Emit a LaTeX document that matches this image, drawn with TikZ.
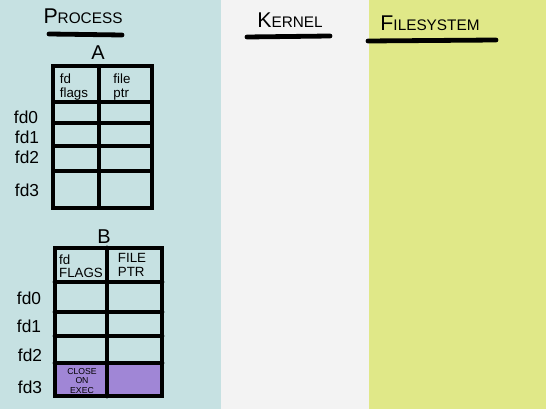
\documentclass[tikz,border=0pt]{standalone}
\usepackage{fontspec}
\setmainfont{Liberation Sans}
\usetikzlibrary{positioning}

\definecolor{procblue}{RGB}{198,225,226}
\definecolor{kernwhite}{RGB}{243,243,243}
\definecolor{fsyellow}{RGB}{224,232,136}
\definecolor{cloexec}{RGB}{160,134,214}

\newcommand{\smcap}[2]{{\fontsize{16}{18}\selectfont #1}{\fontsize{11.5}{13}\selectfont #2}}

\tikzset{
  marker/.style={line width=2.6pt, line cap=round},
  heavy/.style={line width=3.6pt, line cap=round},
  title/.style={inner sep=0pt, anchor=base},
  fdlabel/.style={font=\fontsize{13}{14}\selectfont, inner sep=0pt},
  hdr/.style={font=\fontsize{10}{10}\selectfont, align=left, inner sep=0pt},
  tblname/.style={font=\fontsize{15}{16}\selectfont, inner sep=0pt}
}

\begin{document}
\begin{tikzpicture}[x=0.75pt, y=-0.75pt]

    % Background columns
    \useasboundingbox (0,0) rectangle (546,409);
    \fill[kernwhite] (0,0) rectangle (546,409);
    \fill[procblue] (0,0) rectangle (221,409);
    \fill[fsyellow] (369,0) rectangle (546,409);

    % Column titles with their underlines
    \node[title] (process) at (83,24) {\smcap{P}{ROCESS}};
    \node[title] (kernel) at (290,28) {\smcap{K}{ERNEL}};
    \node[title] (filesys) at (430,31) {\smcap{F}{ILESYSTEM}};
    \draw[heavy] (49,34) -- (122,35);
    \draw[heavy] (247,37) -- (330,36);
    \draw[heavy] (368,41) -- (496,40);

    % Table A
    \node[tblname] (tblA) at (98,53) {A};
    \draw[marker] (53,66) rectangle (152,208);
    \draw[marker] (99,66) -- (99,208);
    \foreach \y in {102,123,146,171} {
        \draw[marker] (53,\y) -- (152,\y);
    }
    \node[hdr] (hdrAfd) at (74,87) {fd\\flags};
    \node[hdr] (hdrAptr) at (122,87) {file\\ptr};
    \node[fdlabel] (Afd0) at (26,117) {fd0};
    \node[fdlabel] (Afd1) at (27,137) {fd1};
    \node[fdlabel] (Afd2) at (27,157) {fd2};
    \node[fdlabel] (Afd3) at (27,190) {fd3};

    % Table B, with fd3 marked close-on-exec
    \node[tblname] (tblB) at (104,237) {B};
    \fill[cloexec] (56,363) rectangle (163,397);
    \draw[marker] (55,248) rectangle (162,396);
    \draw[heavy] (107,248) -- (107,396);
    \foreach \y in {282,312,336,363} {
        \draw[heavy] (55,\y) -- (162,\y);
    }
    \node[hdr] (hdrBfd) at (81,266) {fd\\FLAGS};
    \node[hdr] (hdrBptr) at (132,265) {FILE\\PTR};
    \node[fdlabel] (Bfd0) at (29,298) {fd0};
    \node[fdlabel] (Bfd1) at (29,326) {fd1};
    \node[fdlabel] (Bfd2) at (30,355) {fd2};
    \node[fdlabel] (Bfd3) at (30,387) {fd3};
    \node[align=center, font=\fontsize{6.5}{7}\selectfont, inner sep=0pt] (cloexecnote) at (82,381) {CLOSE\\ON\\EXEC};

\end{tikzpicture}
\end{document}
